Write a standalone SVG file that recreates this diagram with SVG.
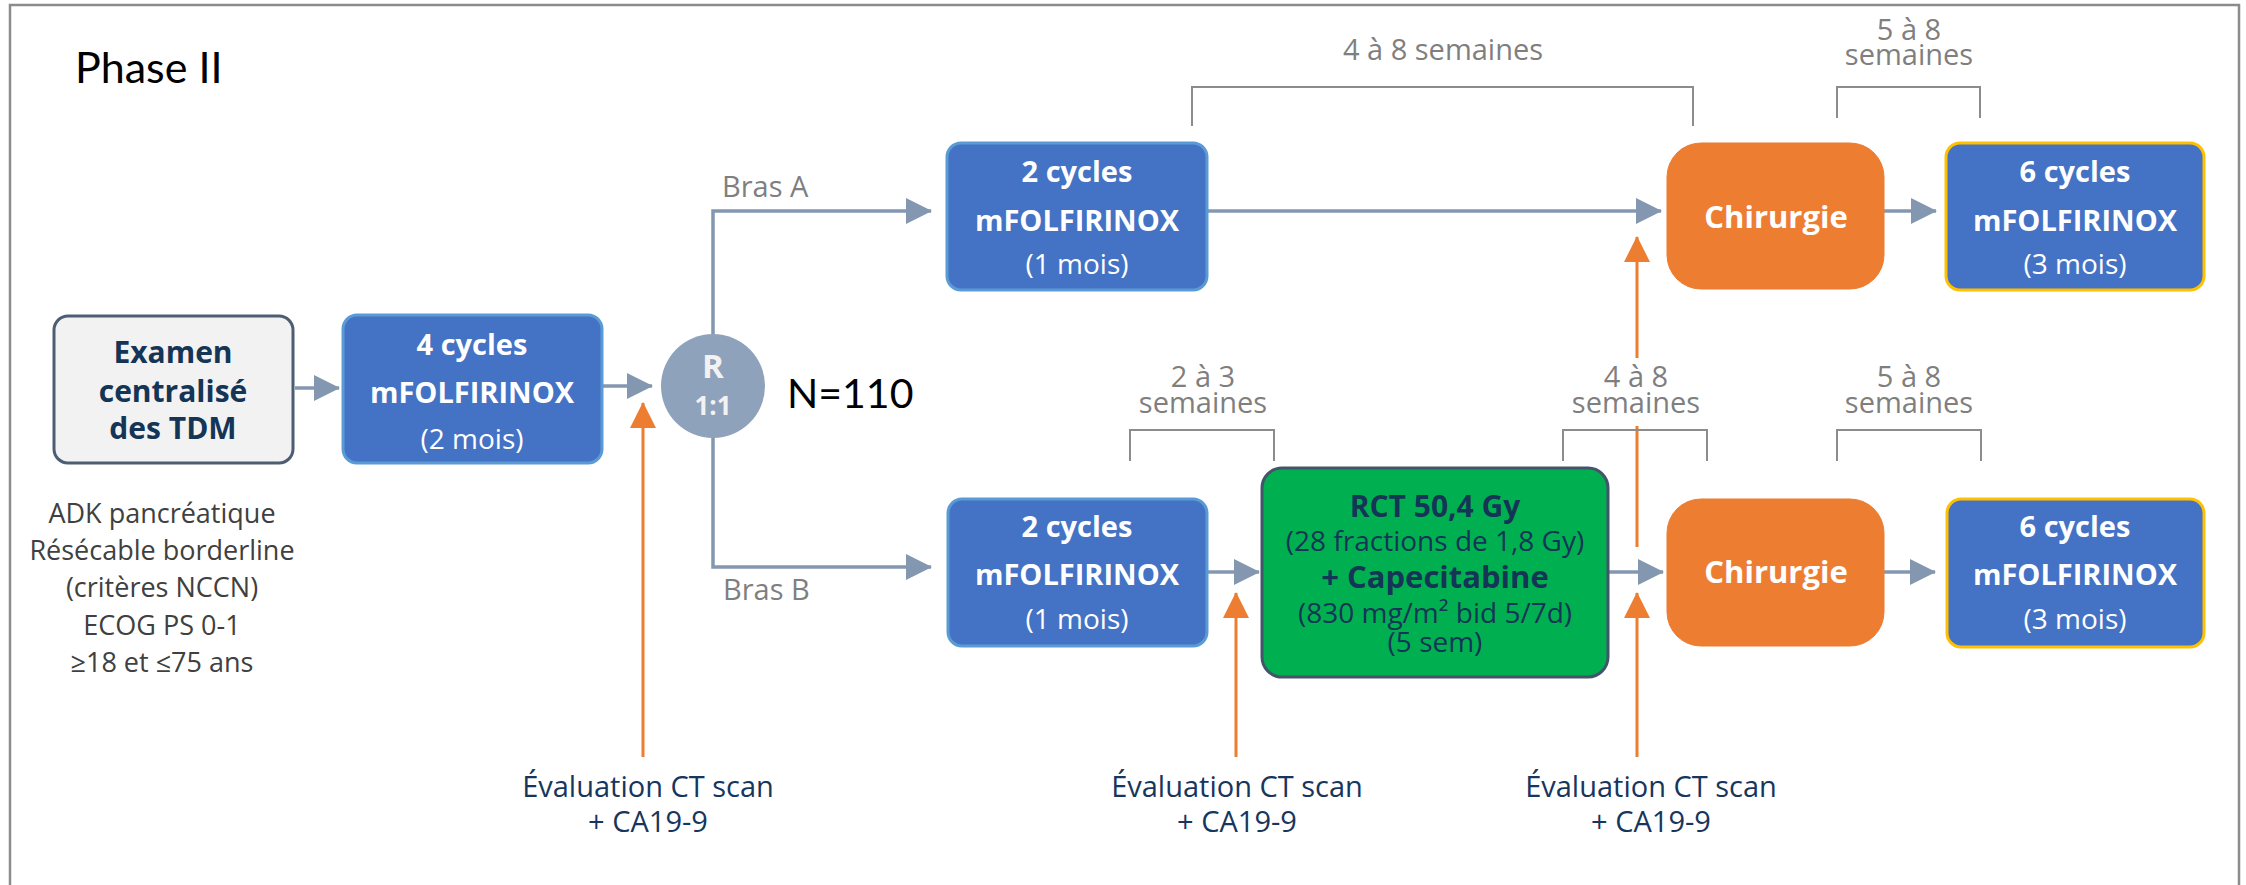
<svg xmlns="http://www.w3.org/2000/svg" width="2246" height="885" viewBox="0 0 2246 885">
<defs>
<style>
.frame{fill:none;stroke:#8c8c8c;stroke-width:2.5}
.blue{fill:#4472c4;stroke:#5b9bd5;stroke-width:3}
.gold{fill:#4472c4;stroke:#ffc000;stroke-width:3}
.orange{fill:#ed7d31;stroke:#ed7d31;stroke-width:1}
.grey{fill:#f2f2f2;stroke:#4d5d73;stroke-width:3}
.green{fill:#00b050;stroke:#44546a;stroke-width:3}
.t{font-family:"Open Sans","Liberation Sans",sans-serif;text-anchor:middle}
.wb{fill:#ffffff;font-weight:bold;font-size:29px}
.wr{fill:#ffffff;font-size:28px;font-weight:normal}
.nb{fill:#143556;font-weight:bold;font-size:30px}
.nr{fill:#143556;font-size:28px;font-weight:normal}
.lab{fill:#7f7f7f;font-size:29px}
.crit{fill:#404040;font-size:27px}
.ev{fill:#17365d;font-size:29px}
.cal{font-family:Lato,"Liberation Sans",sans-serif;fill:#000000}
.flow{fill:none;stroke:#8497b0;stroke-width:3.5}
.oline{fill:none;stroke:#ed7d31;stroke-width:3}
.brk{fill:none;stroke:#8c8c8c;stroke-width:2}
</style>
<marker id="ah" viewBox="0 0 26 26" refX="25" refY="13" markerWidth="26" markerHeight="26" markerUnits="userSpaceOnUse" orient="auto">
<path d="M0 0 L26 13 L0 26 Z" fill="#8497b0"/>
</marker>
<marker id="oh" viewBox="0 0 26 26" refX="25" refY="13" markerWidth="26" markerHeight="26" markerUnits="userSpaceOnUse" orient="auto">
<path d="M0 0 L26 13 L0 26 Z" fill="#ed7d31"/>
</marker>
</defs>
<rect x="0" y="0" width="2246" height="885" fill="#ffffff"/>
<path class="frame" d="M10 890 V5 H2239 V890"/>
<text class="cal" x="75" y="83" font-size="43">Phase II</text>

<g id="connectors">
<path class="flow" d="M295 388 H339" marker-end="url(#ah)"/>
<path class="flow" d="M603 386 H652" marker-end="url(#ah)"/>
<path class="flow" d="M713 334 V211 H931" marker-end="url(#ah)"/>
<path class="flow" d="M713 437 V567 H931" marker-end="url(#ah)"/>
<path class="flow" d="M1207 211 H1661" marker-end="url(#ah)"/>
<path class="flow" d="M1884 211 H1936" marker-end="url(#ah)"/>
<path class="flow" d="M1207 572 H1259" marker-end="url(#ah)"/>
<path class="flow" d="M1608 572 H1663" marker-end="url(#ah)"/>
<path class="flow" d="M1884 572 H1935" marker-end="url(#ah)"/>
<path class="oline" d="M643 757 V403" marker-end="url(#oh)"/>
<path class="oline" d="M1236 757 V593" marker-end="url(#oh)"/>
<path class="oline" d="M1637 757 V593" marker-end="url(#oh)"/>
<path class="oline" d="M1637 547 V237" marker-end="url(#oh)"/>
</g>

<g id="brackets">
<path class="brk" d="M1192 126 V87 H1693 V126"/>
<path class="brk" d="M1837 118 V87 H1980 V118"/>
<rect x="1566" y="358" width="140" height="68" fill="#ffffff"/>
<path class="brk" d="M1130 461 V430 H1274 V461"/>
<path class="brk" d="M1563 461 V430 H1707 V461"/>
<path class="brk" d="M1837 461 V430 H1981 V461"/>
<text class="t lab" x="1443" y="60">4 à 8 semaines</text>
<text class="t lab" x="1909" y="40">5 à 8<tspan x="1909" dy="25">semaines</tspan></text>
<text class="t lab" x="1203" y="387">2 à 3<tspan x="1203" dy="26">semaines</tspan></text>
<text class="t lab" x="1636" y="387">4 à 8<tspan x="1636" dy="26">semaines</tspan></text>
<text class="t lab" x="1909" y="387">5 à 8<tspan x="1909" dy="26">semaines</tspan></text>
</g>

<g id="examen">
<rect class="grey" x="54" y="316" width="239" height="147" rx="14"/>
<text class="t nb" x="173" y="363" font-size="31">Examen<tspan x="173" dy="39">centralisé</tspan><tspan x="173" dy="37">des TDM</tspan></text>
</g>

<g id="criteres">
<text class="t crit" x="162" y="523">ADK pancréatique<tspan x="162" dy="37">Résécable borderline</tspan><tspan x="162" dy="37">(critères NCCN)</tspan><tspan x="162" dy="38">ECOG PS 0-1</tspan><tspan x="162" dy="37">≥18 et ≤75 ans</tspan></text>
</g>

<g id="cycles4">
<rect class="blue" x="343" y="315" width="259" height="148" rx="14"/>
<text class="t wb" x="472" y="355">4 cycles<tspan x="472" dy="48">mFOLFIRINOX</tspan><tspan class="wr" x="472" dy="46">(2 mois)</tspan></text>
</g>

<g id="random">
<circle cx="713" cy="386" r="52" fill="#8fa2bb"/>
<text class="t" x="713" y="378" fill="#f2f2f2" font-weight="bold" font-size="33">R<tspan x="713" dy="37" font-size="26">1:1</tspan></text>
<text class="cal" x="787" y="408" font-size="41">N=110</text>
</g>

<g id="brasA">
<text class="lab" x="722" y="197" font-family="Open Sans, Liberation Sans, sans-serif">Bras A</text>
</g>
<g id="brasB">
<text class="lab" x="723" y="600" font-family="Open Sans, Liberation Sans, sans-serif">Bras B</text>
</g>

<g id="cycles2A">
<rect class="blue" x="947" y="143" width="260" height="147" rx="14"/>
<text class="t wb" x="1077" y="182">2 cycles<tspan x="1077" dy="49">mFOLFIRINOX</tspan><tspan class="wr" x="1077" dy="43">(1 mois)</tspan></text>
</g>

<g id="chirA">
<rect class="orange" x="1667" y="143" width="217" height="146" rx="34"/>
<text class="t" x="1776" y="228" fill="#ffffff" font-weight="bold" font-size="31">Chirurgie</text>
</g>

<g id="cycles6A">
<rect class="gold" x="1946" y="143" width="258" height="147" rx="14"/>
<text class="t wb" x="2075" y="182">6 cycles<tspan x="2075" dy="49">mFOLFIRINOX</tspan><tspan class="wr" x="2075" dy="43">(3 mois)</tspan></text>
</g>

<g id="cycles2B">
<rect class="blue" x="948" y="499" width="259" height="147" rx="14"/>
<text class="t wb" x="1077" y="537">2 cycles<tspan x="1077" dy="48">mFOLFIRINOX</tspan><tspan class="wr" x="1077" dy="44">(1 mois)</tspan></text>
</g>

<g id="rct">
<rect class="green" x="1262" y="468" width="346" height="209" rx="20"/>
<text class="t nb" x="1435" y="517">RCT 50,4 Gy<tspan class="nr" x="1435" dy="34">(28 fractions de 1,8 Gy)</tspan><tspan x="1435" dy="37" font-size="31">+ Capecitabine</tspan><tspan class="nr" x="1435" dy="35">(830 mg/m² bid 5/7d)</tspan><tspan class="nr" x="1435" dy="29">(5 sem)</tspan></text>
</g>

<g id="chirB">
<rect class="orange" x="1667" y="499" width="217" height="147" rx="34"/>
<text class="t" x="1776" y="583" fill="#ffffff" font-weight="bold" font-size="31">Chirurgie</text>
</g>

<g id="cycles6B">
<rect class="gold" x="1947" y="499" width="257" height="148" rx="14"/>
<text class="t wb" x="2075" y="537">6 cycles<tspan x="2075" dy="48">mFOLFIRINOX</tspan><tspan class="wr" x="2075" dy="44">(3 mois)</tspan></text>
</g>

<g id="eval1">
<text class="t ev" x="648" y="797">Évaluation CT scan<tspan x="648" dy="35">+ CA19-9</tspan></text>
</g>
<g id="eval2">
<text class="t ev" x="1237" y="797">Évaluation CT scan<tspan x="1237" dy="35">+ CA19-9</tspan></text>
</g>
<g id="eval3">
<text class="t ev" x="1651" y="797">Évaluation CT scan<tspan x="1651" dy="35">+ CA19-9</tspan></text>
</g>
</svg>
